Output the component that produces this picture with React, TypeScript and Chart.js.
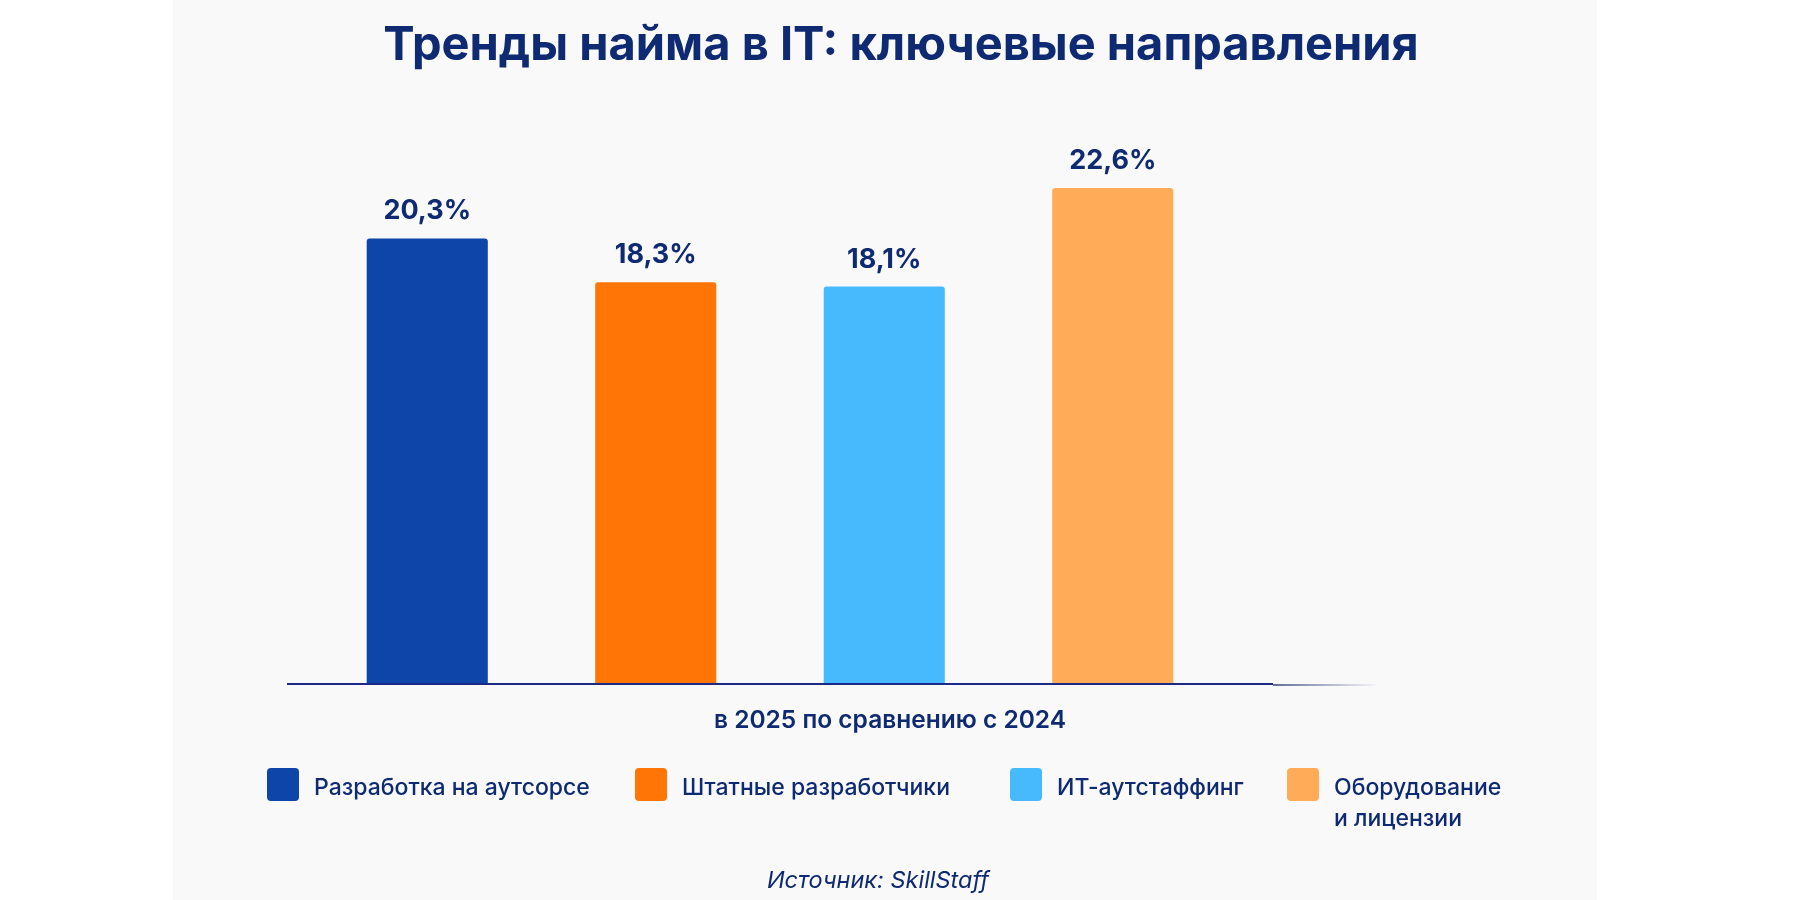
import React, { useEffect, useRef } from "react";
import { Chart, registerables } from "chart.js";

Chart.register(...registerables);

const title = "Тренды найма в IT: ключевые направления";
const categories = [
  "Разработка на аутсорсе",
  "Штатные разработчики",
  "ИТ-аутстаффинг",
  "Оборудование и лицензии",
];
const legendLines = [
  ["Разработка на аутсорсе"],
  ["Штатные разработчики"],
  ["ИТ-аутстаффинг"],
  ["Оборудование", "и лицензии"],
];
const values = [20.3, 18.3, 18.1, 22.6];
const valueLabels = ["20,3%", "18,3%", "18,1%", "22,6%"];
const colors = ["#0d45a9", "#ff7506", "#47b9fd", "#ffab57"];
const axisCaption = "в 2025 по сравнению с 2024";
const source = "Источник: SkillStaff";

const NAVY = "#0e2a72";
const FONT = "Inter, Roboto, 'Noto Sans', sans-serif";

const legendLefts = [267, 635, 1010, 1287];

const overlayPlugin = {
  id: "overlay",
  afterDatasetsDraw(chart: any) {
    const ctx = chart.ctx;
    const area = chart.chartArea;
    const y0 = chart.scales.y.getPixelForValue(0);
    ctx.save();
    // baseline
    ctx.strokeStyle = "#1b2a86";
    ctx.lineWidth = 2;
    ctx.beginPath();
    ctx.moveTo(area.left - 26, y0 + 1);
    ctx.lineTo(area.right + 46, y0 + 1);
    ctx.stroke();
    const grad = ctx.createLinearGradient(area.right + 46, 0, area.right + 152, 0);
    grad.addColorStop(0, "rgba(27,42,110,0.9)");
    grad.addColorStop(1, "rgba(27,42,110,0)");
    ctx.strokeStyle = grad;
    ctx.lineWidth = 1.5;
    ctx.beginPath();
    ctx.moveTo(area.right + 46, y0 + 2);
    ctx.lineTo(area.right + 152, y0 + 2);
    ctx.stroke();
    // value labels
    const meta = chart.getDatasetMeta(0);
    ctx.fillStyle = NAVY;
    ctx.font = `bold 27px ${FONT}`;
    ctx.textAlign = "center";
    ctx.textBaseline = "alphabetic";
    meta.data.forEach((bar: any, i: number) => {
      ctx.fillText(valueLabels[i], bar.x, bar.y - 19);
    });
    ctx.restore();
  },
};

export default function App() {
  const canvasRef = useRef<HTMLCanvasElement | null>(null);

  useEffect(() => {
    const canvas = canvasRef.current;
    if (!canvas) return;
    const chart = new Chart(canvas, {
      type: "bar",
      data: {
        labels: categories,
        datasets: [
          {
            data: values,
            backgroundColor: colors,
            borderRadius: 3,
            barPercentage: 0.53,
            categoryPercentage: 1,
          },
        ],
      },
      options: {
        responsive: false,
        animation: false,
        devicePixelRatio: 1,
        layout: { padding: { left: 313, right: 573, top: 135.5, bottom: 217 } },
        scales: {
          x: { display: false },
          y: { display: false, min: 0, max: 25 },
        },
        plugins: {
          legend: { display: false },
          tooltip: { enabled: false },
          title: { display: false },
        },
      },
      plugins: [overlayPlugin],
    });
    return () => chart.destroy();
  }, []);

  return (
    <div
      style={{
        position: "fixed",
        left: 0,
        top: 0,
        width: 1800,
        height: 900,
        background: "#ffffff",
        overflow: "hidden",
        fontFamily: FONT,
        color: NAVY,
      }}
    >
      <div
        style={{
          position: "absolute",
          left: 173,
          top: 0,
          width: 1424,
          height: 900,
          background: "#f9f9fa",
        }}
      />
      <canvas
        ref={canvasRef}
        width={1800}
        height={900}
        style={{ position: "absolute", left: 0, top: 0, width: 1800, height: 900 }}
      />
      <div
        style={{
          position: "absolute",
          left: 0,
          width: 1802,
          top: 19,
          textAlign: "center",
          fontSize: 47,
          lineHeight: "47px",
          fontWeight: 700,
          whiteSpace: "nowrap",
        }}
      >
        {title}
      </div>
      <div
        style={{
          position: "absolute",
          left: 0,
          width: 1780,
          top: 707,
          textAlign: "center",
          fontSize: 24.5,
          lineHeight: "25px",
          fontWeight: 600,
          whiteSpace: "nowrap",
        }}
      >
        {axisCaption}
      </div>
      {legendLines.map((lines, i) => (
        <div
          key={i}
          style={{ position: "absolute", left: legendLefts[i], top: 768, display: "flex" }}
        >
          <div
            style={{
              width: 32,
              height: 33,
              borderRadius: 4,
              background: colors[i],
              flex: "none",
            }}
          />
          <div
            style={{
              marginLeft: 15,
              marginTop: 4,
              fontSize: 23,
              lineHeight: "31px",
              fontWeight: 500,
              whiteSpace: "nowrap",
            }}
            title={categories[i]}
          >
            {lines.map((l, j) => (
              <div key={j}>{l}</div>
            ))}
          </div>
        </div>
      ))}
      <div
        style={{
          position: "absolute",
          left: 0,
          width: 1756,
          top: 868,
          textAlign: "center",
          fontSize: 23.5,
          lineHeight: "23px",
          fontStyle: "italic",
          whiteSpace: "nowrap",
        }}
      >
        {source}
      </div>
    </div>
  );
}
